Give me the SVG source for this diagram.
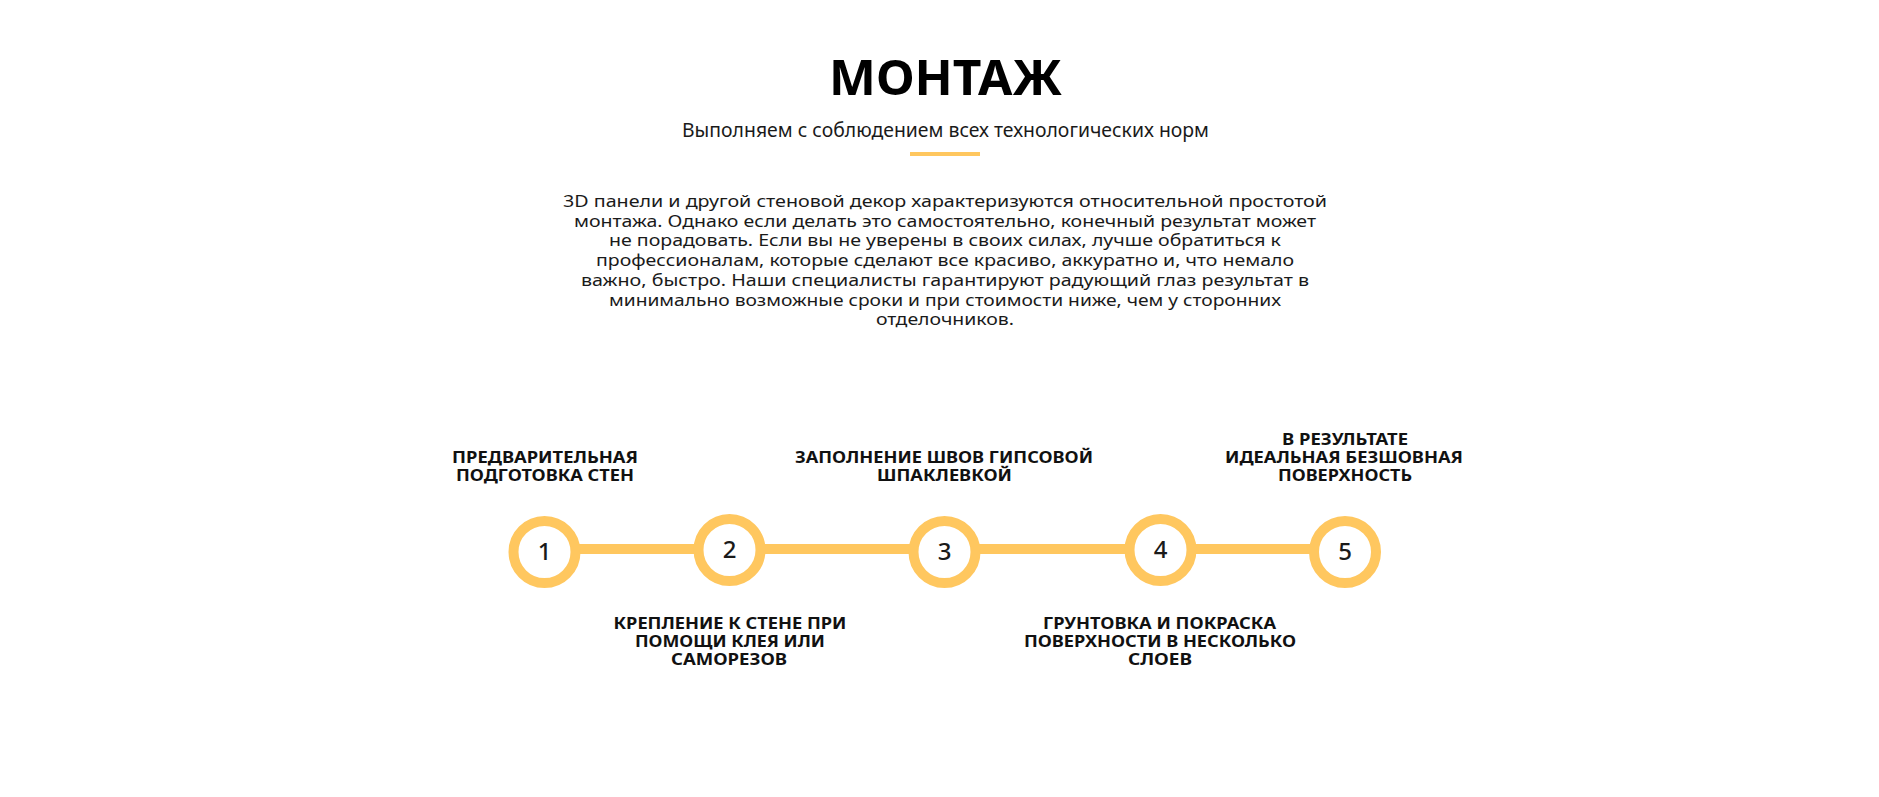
<svg xmlns="http://www.w3.org/2000/svg" width="1879" height="797" viewBox="0 0 1879 797">
  <style>
    .title { font-family: "Noto Sans", "Open Sans", sans-serif; font-weight: 700; font-size: 49px; fill: #000; }
    .sub { font-family: "Noto Sans", "Open Sans", sans-serif; font-size: 19.5px; fill: #1a1a1a; }
    .para { font-family: "Noto Sans", "Open Sans", sans-serif; font-size: 17px; fill: #1a1a1a; }
    .lbl { font-family: "Noto Sans", "Open Sans", sans-serif; font-weight: 700; font-size: 15.5px; fill: #111; }
    .num { font-family: "Noto Sans", "Open Sans", sans-serif; font-weight: 500; font-size: 24px; fill: #1a1a1a; }
    .ring { fill: #fff; stroke: #ffc75f; stroke-width: 10; }
    .track { stroke: #ffc75f; stroke-width: 10; }
  </style>

  <rect width="1879" height="797" fill="#fff"/>

  <!-- heading block -->
  <g id="heading" text-anchor="middle">
    <text class="title" x="945.5" y="95" textLength="233" lengthAdjust="spacingAndGlyphs">МОНТАЖ</text>
    <text class="sub" x="945.5" y="137" textLength="527" lengthAdjust="spacingAndGlyphs">Выполняем с соблюдением всех технологических норм</text>
    <rect x="910" y="152" width="70" height="4" fill="#ffc75f"/>
  </g>

  <!-- description -->
  <g id="description" text-anchor="middle">
    <text class="para" x="945" y="207" textLength="764" lengthAdjust="spacingAndGlyphs">3D панели и другой стеновой декор характеризуются относительной простотой</text>
    <text class="para" x="945" y="226.7" textLength="742" lengthAdjust="spacingAndGlyphs">монтажа. Однако если делать это самостоятельно, конечный результат может</text>
    <text class="para" x="945" y="246.4" textLength="672" lengthAdjust="spacingAndGlyphs">не порадовать. Если вы не уверены в своих силах, лучше обратиться к</text>
    <text class="para" x="945" y="266.1" textLength="698" lengthAdjust="spacingAndGlyphs">профессионалам, которые сделают все красиво, аккуратно и, что немало</text>
    <text class="para" x="945" y="285.8" textLength="728" lengthAdjust="spacingAndGlyphs">важно, быстро. Наши специалисты гарантируют радующий глаз результат в</text>
    <text class="para" x="945" y="305.5" textLength="672" lengthAdjust="spacingAndGlyphs">минимально возможные сроки и при стоимости ниже, чем у сторонних</text>
    <text class="para" x="945" y="325.2" textLength="138" lengthAdjust="spacingAndGlyphs">отделочников.</text>
  </g>

  <!-- connectors -->
  <g id="connectors">
    <line class="track" x1="544.5" y1="549" x2="1345" y2="549"/>
  </g>

  <!-- steps -->
  <g id="step1" text-anchor="middle">
    <circle class="ring" cx="544.5" cy="552" r="31"/>
    <text class="num" x="544.5" y="560">1</text>
    <text class="lbl" x="545" y="463" textLength="186" lengthAdjust="spacingAndGlyphs">ПРЕДВАРИТЕЛЬНАЯ</text>
    <text class="lbl" x="545" y="481" textLength="178" lengthAdjust="spacingAndGlyphs">ПОДГОТОВКА СТЕН</text>
  </g>

  <g id="step2" text-anchor="middle">
    <circle class="ring" cx="729.5" cy="550" r="31"/>
    <text class="num" x="729.5" y="558">2</text>
    <text class="lbl" x="730" y="629" textLength="233" lengthAdjust="spacingAndGlyphs">КРЕПЛЕНИЕ К СТЕНЕ ПРИ</text>
    <text class="lbl" x="730" y="647" textLength="190" lengthAdjust="spacingAndGlyphs">ПОМОЩИ КЛЕЯ ИЛИ</text>
    <text class="lbl" x="729" y="665" textLength="116" lengthAdjust="spacingAndGlyphs">САМОРЕЗОВ</text>
  </g>

  <g id="step3" text-anchor="middle">
    <circle class="ring" cx="944.5" cy="552" r="31"/>
    <text class="num" x="944.5" y="560">3</text>
    <text class="lbl" x="944" y="463" textLength="298" lengthAdjust="spacingAndGlyphs">ЗАПОЛНЕНИЕ ШВОВ ГИПСОВОЙ</text>
    <text class="lbl" x="944.5" y="481" textLength="135" lengthAdjust="spacingAndGlyphs">ШПАКЛЕВКОЙ</text>
  </g>

  <g id="step4" text-anchor="middle">
    <circle class="ring" cx="1160.5" cy="550" r="31"/>
    <text class="num" x="1160.5" y="558">4</text>
    <text class="lbl" x="1159.5" y="629" textLength="233" lengthAdjust="spacingAndGlyphs">ГРУНТОВКА И ПОКРАСКА</text>
    <text class="lbl" x="1160" y="647" textLength="272" lengthAdjust="spacingAndGlyphs">ПОВЕРХНОСТИ В НЕСКОЛЬКО</text>
    <text class="lbl" x="1160" y="665" textLength="64" lengthAdjust="spacingAndGlyphs">СЛОЕВ</text>
  </g>

  <g id="step5" text-anchor="middle">
    <circle class="ring" cx="1345" cy="552" r="31"/>
    <text class="num" x="1345" y="560">5</text>
    <text class="lbl" x="1345" y="445" textLength="126" lengthAdjust="spacingAndGlyphs">В РЕЗУЛЬТАТЕ</text>
    <text class="lbl" x="1344" y="463" textLength="238" lengthAdjust="spacingAndGlyphs">ИДЕАЛЬНАЯ БЕЗШОВНАЯ</text>
    <text class="lbl" x="1345" y="481" textLength="134" lengthAdjust="spacingAndGlyphs">ПОВЕРХНОСТЬ</text>
  </g>
</svg>
